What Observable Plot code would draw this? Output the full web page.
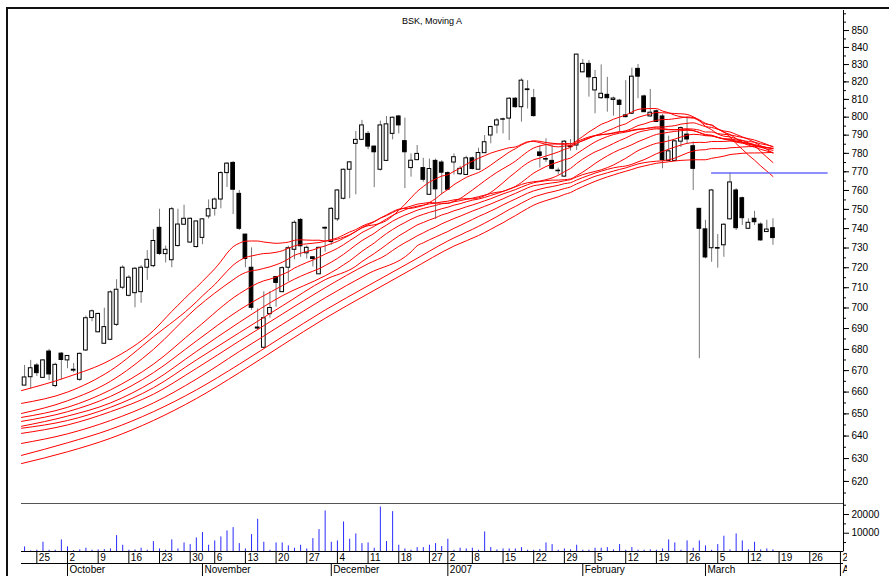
<!DOCTYPE html>
<html><head><meta charset="utf-8">
<script src="https://cdn.jsdelivr.net/npm/d3@7"></script>
<script src="https://cdn.jsdelivr.net/npm/@observablehq/plot@0.6"></script>
<style>
body{margin:0;background:#fff;}
#chart{position:relative;width:889px;height:576px;overflow:hidden;background:#fff;font-family:"Liberation Sans",Arial,sans-serif;}
#chart svg{position:absolute;left:0;top:0;overflow:visible;background:transparent;}
#bt{position:absolute;left:6px;top:7px;width:883px;height:2px;background:#111;}
#bl{position:absolute;left:6px;top:7px;width:2px;height:569px;background:#111;}
#title{position:absolute;left:380px;width:104px;top:16px;text-align:center;font-size:9px;color:#000;}
</style></head><body>
<div id="chart"><div id="bt"></div><div id="bl"></div><div id="title">BSK, Moving A</div></div>
<script>
// ---------- data ----------
const firstDay = "2006-09-21";
const lastAxisDay = "2007-04-02";
const holidays = ["2006-11-01","2006-12-25","2006-12-26","2007-01-01"];

const open = [663.0,666.9,672.4,666.6,679.0,662.8,678.0,674.8,670.4,665.7,679.5,695.1,688.2,682.7,684.6,691.8,710.0,706.0,707.3,707.8,720.0,720.8,740.4,726.9,723.8,731.0,742.0,732.8,730.5,735.2,746.3,750.3,755.2,769.3,774.8,758.2,736.9,720.0,690.5,680.8,697.0,715.3,707.8,720.0,729.1,744.5,727.3,725.3,716.7,740.4,733.1,744.8,755.6,771.1,785.2,787.4,790.7,783.7,771.1,775.9,790.7,800.4,786.7,772.0,776.3,772.0,757.7,775.9,775.0,769.3,775.0,768.7,768.3,777.3,771.1,780.1,789.8,795.4,798.8,799.2,810.4,805.6,815.7,810.7,780.5,776.9,775.9,770.6,767.4,783.8,784.3,825.5,830.4,815.1,810.7,812.6,809.7,809.3,801.0,801.9,827.5,811.7,800.4,803.3,800.4,775.9,775.9,786.4,790.3,783.9,750.3,739.6,729.9,730.0,731.4,744.8,760.0,755.9,739.9,745.1,742.1,738.2,740.2];
const high = [672.4,674.8,673.3,675.2,680.0,673.5,678.5,676.9,673.3,678.3,696.0,699.0,697.5,699.9,708.5,714.0,721.0,716.0,720.1,721.0,728.7,739.5,750.1,731.0,751.0,750.1,752.2,745.5,744.0,745.0,755.0,756.0,770.0,775.0,775.5,760.0,737.0,730.1,699.6,708.0,708.0,715.7,720.5,731.0,744.0,745.2,731.0,725.5,730.5,740.8,751.0,760.5,771.5,775.5,792.0,798.2,792.0,784.0,797.8,800.4,800.0,801.0,799.5,779.7,784.3,777.3,776.9,776.9,776.0,770.0,779.7,773.0,778.4,778.0,782.8,789.8,795.0,799.3,799.5,811.0,811.0,821.8,820.7,815.7,784.2,788.0,784.2,772.0,787.0,787.5,836.0,832.9,832.3,826.6,829.8,822.6,811.3,810.0,820.7,827.9,830.0,812.5,815.7,804.0,801.5,789.4,787.0,794.5,800.0,786.2,750.5,744.3,760.5,736.9,742.5,769.4,761.0,756.5,745.1,749.0,743.0,744.3,745.1];
const low = [663.0,661.5,667.2,666.3,665.4,662.0,665.6,670.9,669.0,665.0,679.0,693.3,688.0,682.5,684.3,691.0,709.0,705.5,700.1,702.3,713.7,720.0,726.2,722.4,720.0,730.5,741.6,732.5,730.0,731.7,745.0,746.5,750.3,761.6,747.3,739.0,720.0,698.8,689.5,680.5,695.0,700.4,707.6,712.9,724.0,725.3,724.4,720.4,716.5,727.9,731.4,743.7,755.0,755.6,757.7,787.0,782.0,761.5,770.4,775.5,787.4,790.7,761.0,767.1,776.0,764.4,757.5,744.8,757.7,760.0,768.3,768.0,768.0,771.0,771.0,780.0,785.2,790.7,790.7,787.0,805.0,797.2,804.6,800.0,772.0,775.0,771.0,768.3,767.0,781.2,781.5,825.3,811.3,801.9,810.0,802.8,800.6,791.6,799.7,801.5,810.4,802.6,800.0,797.0,771.6,775.5,775.5,783.2,785.2,760.0,675.6,724.5,722.8,719.8,725.3,744.5,739.0,741.6,739.5,741.6,733.5,738.0,731.4];
const close = [666.8,671.1,668.8,674.8,668.2,672.7,675.0,676.9,670.0,677.9,695.0,698.4,697.1,690.7,707.7,709.0,720.0,715.0,719.5,720.0,724.0,733.6,727.0,729.1,750.1,742.1,745.1,745.1,743.7,744.8,750.1,755.2,769.3,774.4,760.4,739.9,724.4,700.1,690.0,695.0,700.0,712.4,719.8,729.9,743.0,730.9,730.1,724.4,730.1,740.0,750.3,760.0,771.1,775.1,787.4,795.4,783.7,780.6,795.4,796.0,799.7,795.4,780.6,776.0,779.7,765.7,771.5,760.6,769.5,760.4,777.9,771.6,777.3,771.5,780.2,786.1,794.5,798.2,798.6,810.4,805.6,820.7,815.3,800.6,778.6,776.6,771.6,770.3,786.4,783.4,835.8,830.4,822.6,822.2,813.2,810.7,810.5,806.9,800.0,823.0,823.0,802.8,802.5,797.3,776.3,781.1,786.6,793.9,787.6,771.6,739.9,725.2,760.0,729.7,742.0,764.3,740.2,745.4,743.0,743.3,733.9,739.5,735.1];
const volume = [2670,530,890,5160,890,890,6410,2670,710,1070,1960,890,1070,1250,1600,8720,3560,890,1070,1960,890,5520,1600,890,6410,1600,4810,3920,7480,10320,3560,5870,8010,11210,13000,4450,1600,9260,17440,5160,890,4810,4810,3200,1960,3560,1600,7120,11930,21900,5160,5870,16020,6760,9610,4450,4810,1960,24030,5520,21540,3560,1600,890,2310,2310,3560,4450,2850,6760,890,1960,1600,1960,890,10680,2310,1070,1600,1600,1600,2310,890,890,1250,4810,3920,890,1600,1070,3560,890,890,1960,1960,2310,1070,3920,890,2310,890,890,1070,890,1600,6410,4810,890,5870,1960,5870,3200,890,3920,8370,1070,9610,5870,1070,5160,1070,1600,1070];

// moving-average periods and their early part (before a full window of visible data exists)
const maPeriods = [25,30,35,40,45,50,55,60,65,70,75];
const maReadAt = [-0.5,7,14,21,28,35,42,49,56,63,70];
const maRead = {
  25:[660.7,667,675,689],
  30:[654.8,660,670,686,703],
  35:[650.2,656,665,680,700],
  40:[648.4,653,661,673,690,707],
  45:[646.6,651,658,669,684,699,711],
  50:[644.4,649,655,665,679,693,706],
  55:[643.5,647,653,662,675,688,701,714],
  60:[641.2,645,651,659,671,684,697,710,722],
  65:[636.7,641,647,655,666,679,692,705,717,728],
  70:[631.4,637,643,651,661,673,686,699,711,723],
  75:[627.8,633,639,647,657,669,682,695,707,719,731]
};
const level = {from:"2007-03-02", to:"2007-03-29", value:769.4};

const priceMajor = d3.range(620, 851, 10);
const priceMinor = d3.range(615, 861, 5);
const volMajor = [10000, 20000];
const volMinor = [5000, 15000, 25000];
const weekDates = ["2006-09-25","2006-10-02","2006-10-09","2006-10-16","2006-10-23","2006-10-30","2006-11-06","2006-11-13","2006-11-20","2006-11-27","2006-12-04","2006-12-11","2006-12-18","2006-12-27","2007-01-02","2007-01-08","2007-01-15","2007-01-22","2007-01-29","2007-02-05","2007-02-12","2007-02-19","2007-02-26","2007-03-05","2007-03-12","2007-03-19","2007-03-26","2007-04-02"];
const weekLabels = ["25","2","9","16","23","30","6","13","20","27","4","11","18","27","2","8","15","22","29","5","12","19","26","5","12","19","26","2"];
const monthDates = ["2006-10-02","2006-11-02","2006-12-01","2007-01-02","2007-02-01","2007-03-01","2007-04-02"];
const monthLabels = ["October","November","December","2007","February","March","April"];

// ---------- trading calendar ----------
function tradingDays(start, end, hol) {
  const out = [], h = new Set(hol);
  const e = new Date(end + "T00:00:00Z");
  for (let d = new Date(start + "T00:00:00Z"); d <= e; d.setUTCDate(d.getUTCDate() + 1)) {
    const w = d.getUTCDay(), s = d.toISOString().slice(0, 10);
    if (w === 0 || w === 6 || h.has(s)) continue;
    out.push(s);
  }
  return out;
}
const days = tradingDays(firstDay, lastAxisDay, holidays);
const pos = new Map(days.map((d, k) => [d, k]));

const candles = open.map((o, k) => ({x: k, o, h: high[k], l: low[k], c: close[k]}));
const up = candles.filter(d => d.c >= d.o);
const down = candles.filter(d => d.c < d.o);

const maPts = [];
for (const p of maPeriods) {
  maRead[p].forEach((v, j) => { if (maReadAt[j] < p - 1) maPts.push({p, x: maReadAt[j], y: v}); });
  for (let k = p - 1; k < close.length; k++) {
    let s = 0; for (let j = k - p + 1; j <= k; j++) s += close[j];
    maPts.push({p, x: k, y: s / p});
  }
}

// ---------- layout ----------
const W = 889, H = 576;
const xDom = [-0.5, 133.5];
const xs = {domain: xDom, axis: null};
const mL = 21, mR = 46;
const yPrice = {type: "log", domain: [610.5, 862], axis: null};
const yVol = {domain: [0, 25900], axis: null};
const chart = document.getElementById("chart");
const font = "Liberation Sans, Arial, sans-serif";

const price = Plot.plot({
  width: W, height: H, marginLeft: mL, marginRight: mR, marginTop: 10, marginBottom: 73,
  x: xs, y: yPrice, style: {background: "transparent", fontFamily: font},
  marks: [
    Plot.ruleY([610.5], {stroke: "#555", strokeWidth: 1}),
    Plot.ruleX(candles, {x: "x", y1: "l", y2: "h", stroke: "#777", strokeWidth: 1}),
    Plot.rect(up, {x1: d => d.x - 0.3, x2: d => d.x + 0.3, y1: d => d.o, y2: d => Math.max(d.c, d.o * 1.0004), fill: "#fff", stroke: "#000", strokeWidth: 1}),
    Plot.rect(down, {x1: d => d.x - 0.3, x2: d => d.x + 0.3, y1: "c", y2: "o", fill: "#000", stroke: "#000", strokeWidth: 1}),
    Plot.line(maPts, {x: "x", y: "y", z: "p", stroke: "#ff0000", strokeWidth: 1, curve: "monotone-x"}),
    Plot.ruleY([level], {x1: d => pos.get(d.from), x2: d => pos.get(d.to), y: "value", stroke: "#6a6aff", strokeWidth: 1.5})
  ]
});
chart.appendChild(price);

const priceAxis = Plot.plot({
  width: W, height: H, marginLeft: 843, marginRight: 0, marginTop: 10, marginBottom: 73,
  x: {domain: [0, 46], axis: null}, y: yPrice, style: {background: "transparent", fontFamily: font},
  marks: [
    Plot.ruleX([0], {stroke: "#000"}),
    Plot.ruleY(priceMinor, {x1: 0, x2: 3, stroke: "#000"}),
    Plot.ruleY(priceMajor, {x1: 0, x2: 6, stroke: "#000"}),
    Plot.text(priceMajor, {x: 8, y: d => d, text: d => String(d), textAnchor: "start", fontSize: 10, fill: "#000"})
  ]
});
chart.appendChild(priceAxis);

const vol = Plot.plot({
  width: W, height: H, marginLeft: mL, marginRight: mR, marginTop: 503, marginBottom: 24.6,
  x: xs, y: yVol, style: {background: "transparent", fontFamily: font},
  marks: [
    Plot.ruleX(volume.map((v, k) => ({x: k, v})), {x: "x", y1: 0, y2: "v", stroke: "#2a2aff", strokeWidth: 1})
  ]
});
chart.appendChild(vol);

const volAxis = Plot.plot({
  width: W, height: H, marginLeft: 843, marginRight: 0, marginTop: 503, marginBottom: 24.6,
  x: {domain: [0, 46], axis: null}, y: yVol, style: {background: "transparent", fontFamily: font},
  marks: [
    Plot.ruleX([0], {stroke: "#000"}),
    Plot.ruleY(volMinor, {x1: 0, x2: 3, stroke: "#000"}),
    Plot.ruleY(volMajor, {x1: 0, x2: 6, stroke: "#000"}),
    Plot.text(volMajor, {x: 8, y: d => d, text: d => String(d), textAnchor: "start", fontSize: 10, fill: "#000"})
  ]
});
chart.appendChild(volAxis);

const weekRow = Plot.plot({
  width: W, height: H, marginLeft: mL, marginRight: mR, marginTop: 551, marginBottom: 13,
  x: xs, y: {domain: [0, 1], axis: null}, style: {background: "transparent", fontFamily: font},
  marks: [
    Plot.ruleY([0, 1], {stroke: "#000"}),
    Plot.ruleX(weekDates, {x: d => pos.get(d), stroke: "#000"}),
    Plot.text(weekDates, {x: d => pos.get(d), text: (d, i) => weekLabels[i], textAnchor: "start", dx: 2, fontSize: 10, fill: "#000"})
  ]
});
weekRow.style.clipPath = "inset(0 42px 0 0)";
chart.appendChild(weekRow);

const monthRow = Plot.plot({
  width: W, height: H, marginLeft: mL, marginRight: mR, marginTop: 563, marginBottom: 0,
  x: xs, y: {domain: [0, 1], axis: null}, style: {background: "transparent", fontFamily: font},
  marks: [
    Plot.ruleX(monthDates, {x: d => pos.get(d), stroke: "#000"}),
    Plot.text(monthDates, {x: d => pos.get(d), text: (d, i) => monthLabels[i], textAnchor: "start", dx: 2, fontSize: 10, fill: "#000"})
  ]
});
monthRow.style.clipPath = "inset(0 42px 0 0)";
chart.appendChild(monthRow);
</script>
</body></html>
